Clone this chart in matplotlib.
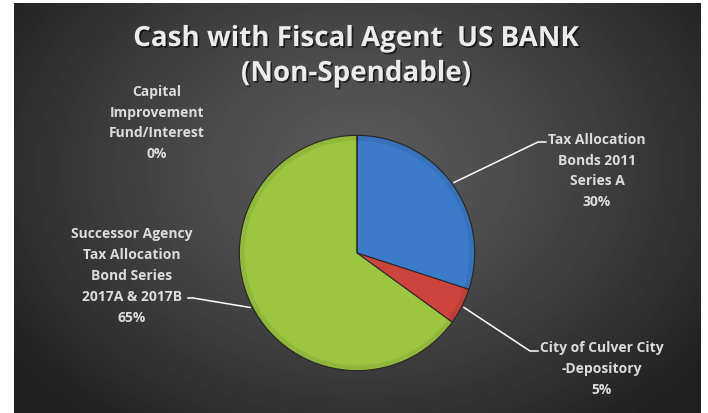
import numpy as np
import matplotlib
matplotlib.use("Agg")
import matplotlib.pyplot as plt
import matplotlib.patheffects as pe

# data
labels = ["Tax Allocation\nBonds 2011\nSeries A",
          "City of Culver City\n-Depository",
          "Successor Agency\nTax Allocation\nBond Series\n2017A & 2017B",
          "Capital\nImprovement\nFund/Interest"]
values = [30, 5, 65, 0]
colors = ["#3c7bc9", "#cf433d", "#9cc640", "#8064a2"]

title = "Cash with Fiscal Agent  US BANK\n(Non-Spendable)"

W, H = 708, 414
fig = plt.figure(figsize=(W / 100, H / 100), dpi=100)
fig.patch.set_facecolor("white")

# dark radial gradient background
bg = fig.add_axes([14 / W, 0, (701 - 14) / W, (414 - 4) / H])
yy, xx = np.mgrid[4:414, 14:701]
r = np.sqrt(((xx - 360) / 430.0) ** 2 + ((yy - 170) / 330.0) ** 2)
shade = 0x5a - (0x5a - 0x20) * np.clip(r, 0, 1) ** 1.3
bg.imshow(shade / 255.0, cmap="gray", vmin=0, vmax=1, aspect="auto",
          interpolation="bilinear")
bg.axis("off")

# overlay in pixel coords for text and leaders
ov = fig.add_axes([0, 0, 1, 1])
ov.set_xlim(0, W)
ov.set_ylim(H, 0)
ov.axis("off")
ov.patch.set_alpha(0)

# pie
cx, cy, R = 357, 254, 120
pa = fig.add_axes([(cx - R) / W, (H - cy - R) / H, 2 * R / W, 2 * R / H])
wedges, _ = pa.pie(values, colors=colors, startangle=90, counterclock=False,
                   wedgeprops=dict(edgecolor="#2a2a2a", linewidth=0.8))
# soft bevel rim
for k in range(5):
    ring = plt.Circle((0, 0), 1 - k * 0.01, fill=False, edgecolor="black",
                      linewidth=1.0, alpha=0.06)
    pa.add_patch(ring)
pa.set_xlim(-1.02, 1.02)
pa.set_ylim(-1.02, 1.02)
pa.set_aspect("equal")
pa.axis("off")

shadow = [pe.withSimplePatchShadow(offset=(1.2, -1.2), shadow_rgbFace="black", alpha=0.6)]
txt_color = "#dcdcdc"

ov.text(356, 57, title, ha="center", va="center", fontsize=20, fontweight="bold",
        family="Open Sans", color="#ececec", linespacing=1.27, path_effects=shadow)

# label positions (text center) and leader elbows
label_pos = [(597, 171), (602, 369), (132, 276), (157, 123)]
elbows = [((538, 143), (546, 143)), ((530, 352), (538, 352)), ((193, 299), (188, 299)), None]

for i, w in enumerate(wedges):
    pct = "%d%%" % round(100 * values[i] / sum(values))
    x, y = label_pos[i]
    ov.text(x, y, labels[i] + "\n" + pct, ha="center", va="center", fontsize=10,
            fontweight="bold", family="Open Sans", color=txt_color, linespacing=1.62)
    if elbows[i] is None:
        continue
    mid = np.deg2rad((w.theta1 + w.theta2) / 2)
    px = cx + R * np.cos(mid)
    py = cy - R * np.sin(mid)
    (ex, ey), (hx, hy) = elbows[i]
    ov.plot([px, ex, hx], [py, ey, hy], color="white", linewidth=1.1)

fig.savefig("out.png", dpi=100)
